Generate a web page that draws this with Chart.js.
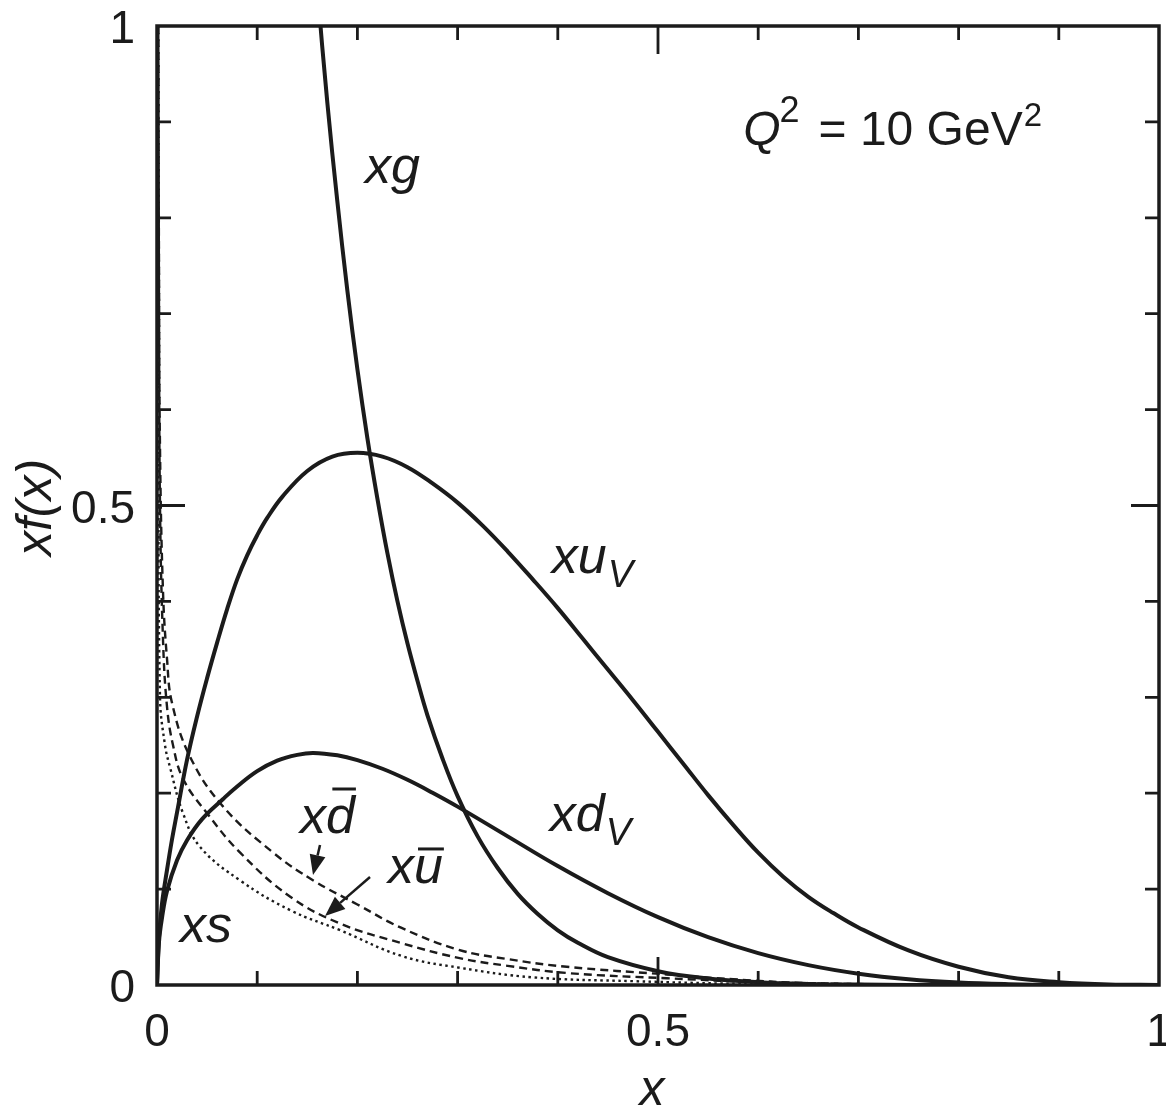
<!DOCTYPE html>
<html>
<head>
<meta charset="utf-8">
<title>Parton distributions at Q2 = 10 GeV2</title>
<script src="https://cdn.jsdelivr.net/npm/chart.js@4.4.1/dist/chart.umd.min.js"></script>
<style>
  html, body { margin: 0; padding: 0; background: #fff; }
  canvas { display: block; }
</style>
</head>
<body>
<canvas id="pdfChart" width="1166" height="1109"></canvas>
<script>
// values (x, xf(x))
const xgX = [0.15, 0.16, 0.17, 0.18, 0.19, 0.2, 0.21, 0.22, 0.23, 0.24, 0.25, 0.26, 0.27, 0.285, 0.3, 0.32, 0.34, 0.36, 0.38, 0.4, 0.42, 0.45, 0.5, 0.55, 0.6, 0.65, 0.7, 0.8, 1.0];
const xgY = [1.18, 1.04, 0.92, 0.817, 0.724, 0.642, 0.57, 0.507, 0.45, 0.4, 0.356, 0.317, 0.281, 0.236, 0.197, 0.155, 0.122, 0.095, 0.074, 0.057, 0.044, 0.029, 0.0144, 0.0067, 0.0029, 0.0011, 0.0004, 0.00003, 0];

const xuvX = [0, 0.002, 0.005, 0.01, 0.015, 0.02, 0.03, 0.04, 0.05, 0.06, 0.07, 0.08, 0.09, 0.1, 0.11, 0.125, 0.15, 0.175, 0.2, 0.225, 0.25, 0.275, 0.3, 0.325, 0.35, 0.375, 0.4, 0.425, 0.45, 0.475, 0.5, 0.525, 0.55, 0.575, 0.6, 0.625, 0.65, 0.675, 0.7, 0.75, 0.8, 0.85, 0.9, 0.95, 1.0];
const xuvY = [0, 0.05, 0.085, 0.12, 0.152, 0.18, 0.235, 0.28, 0.32, 0.357, 0.392, 0.423, 0.448, 0.469, 0.487, 0.509, 0.536, 0.551, 0.555, 0.551, 0.54, 0.523, 0.503, 0.479, 0.452, 0.423, 0.393, 0.361, 0.329, 0.297, 0.264, 0.231, 0.198, 0.167, 0.138, 0.113, 0.092, 0.075, 0.06, 0.036, 0.019, 0.008, 0.003, 0.0006, 0];

const xdvX = [0, 0.002, 0.005, 0.01, 0.02, 0.03, 0.045, 0.066, 0.08, 0.1, 0.12, 0.14, 0.156, 0.18, 0.2, 0.225, 0.25, 0.275, 0.3, 0.35, 0.4, 0.45, 0.5, 0.55, 0.6, 0.65, 0.7, 0.75, 0.8, 0.85, 0.9, 1.0];
const xdvY = [0, 0.045, 0.07, 0.098, 0.13, 0.151, 0.173, 0.194, 0.207, 0.223, 0.234, 0.24, 0.242, 0.2395, 0.2345, 0.2255, 0.214, 0.2005, 0.186, 0.155, 0.124, 0.0957, 0.0707, 0.0498, 0.0332, 0.0207, 0.0118, 0.006, 0.0026, 0.0009, 0.0002, 0];

const xdbarX = [0.0012, 0.002, 0.003, 0.006, 0.01, 0.015, 0.033, 0.066, 0.116, 0.156, 0.2, 0.243, 0.3, 0.35, 0.409, 0.509, 0.575, 0.65, 0.8, 1.0];
const xdbarY = [1.02, 0.75, 0.56, 0.41, 0.34, 0.294, 0.238, 0.186, 0.138, 0.109, 0.084, 0.06, 0.037, 0.027, 0.019, 0.011, 0.006, 0.002, 0, 0];

const xubarX = [0.0015, 0.002, 0.003, 0.006, 0.01, 0.016, 0.026, 0.05, 0.083, 0.133, 0.183, 0.243, 0.302, 0.35, 0.409, 0.509, 0.6, 0.7, 0.8, 1.0];
const xubarY = [1.0, 0.7, 0.5, 0.36, 0.29, 0.25, 0.215, 0.179, 0.138, 0.092, 0.064, 0.044, 0.028, 0.02, 0.0125, 0.007, 0.003, 0.001, 0, 0];

const xsX = [0.0008, 0.0015, 0.003, 0.008, 0.013, 0.026, 0.043, 0.083, 0.133, 0.183, 0.245, 0.302, 0.375, 0.475, 0.6, 0.8, 1.0];
const xsY = [1.0, 0.6, 0.3, 0.25, 0.227, 0.179, 0.144, 0.109, 0.078, 0.057, 0.03, 0.018, 0.008, 0.004, 0.001, 0, 0];

const tickValues = [0, 0.1, 0.2, 0.3, 0.4, 0.5, 0.6, 0.7, 0.8, 0.9, 1];
const tickLabels = [0, 0.5, 1];

// text annotations, placed in data units
const curveLabels = [
  { text: "xg", x: 0.2076, y: 0.836 },
  { text: "xu", sub: "V", x: 0.394, y: 0.4296 },
  { text: "xd", sub: "V", x: 0.392, y: 0.1606 },
  { text: "xd", bar: true, x: 0.1427, y: 0.1585 },
  { text: "xu", bar: true, x: 0.2305, y: 0.1064 },
  { text: "xs", x: 0.023, y: 0.0448 },
];
const arrows = [
  { from: [0.1627, 0.146], to: [0.1557, 0.1147] },
  { from: [0.2126, 0.1126], to: [0.1677, 0.072] },
];

const ink = "#1b1b1b";
const font = "'Liberation Sans', Arial, Helvetica, sans-serif";

const toPoints = (xs, ys) => xs.map((x, i) => ({ x, y: ys[i] }));

const curve = (label, xs, ys, width, dash) => ({
  label,
  data: toPoints(xs, ys),
  showLine: true,
  borderColor: ink,
  borderWidth: width,
  borderDash: dash,
  pointRadius: 0,
  fill: false,
  tension: 0.4,
});

const framePlugin = {
  id: "frame",
  afterDatasetsDraw(chart) {
    const { ctx, chartArea: a, scales } = chart;
    const xs = scales.x;
    const ys = scales.y;
    ctx.save();
    ctx.strokeStyle = ink;
    ctx.fillStyle = ink;

    // inside ticks on all four sides
    ctx.lineWidth = 2.8;
    tickValues.forEach((v) => {
      if (v === 0 || v === 1) return;
      const len = v === 0.5 ? 28 : 14;
      const px = xs.getPixelForValue(v);
      const py = ys.getPixelForValue(v);
      ctx.beginPath();
      ctx.moveTo(px, a.bottom);
      ctx.lineTo(px, a.bottom - len);
      ctx.moveTo(px, a.top);
      ctx.lineTo(px, a.top + len);
      ctx.moveTo(a.left, py);
      ctx.lineTo(a.left + len, py);
      ctx.moveTo(a.right, py);
      ctx.lineTo(a.right - len, py);
      ctx.stroke();
    });

    ctx.lineWidth = 3.5;
    ctx.strokeRect(a.left, a.top, a.right - a.left, a.bottom - a.top);

    // tick labels
    ctx.font = `46px ${font}`;
    ctx.textBaseline = "alphabetic";
    tickLabels.forEach((v) => {
      ctx.textAlign = "right";
      ctx.fillText(String(v), a.left - 22, ys.getPixelForValue(v) + 17);
      ctx.textAlign = "center";
      ctx.fillText(String(v), xs.getPixelForValue(v), a.bottom + 61);
    });

    // axis titles
    ctx.font = `italic 50px ${font}`;
    ctx.textAlign = "center";
    ctx.fillText("x", (a.left + a.right) / 2 - 6, a.bottom + 120);
    ctx.save();
    ctx.translate(a.left - 106, (a.top + a.bottom) / 2 + 2);
    ctx.rotate(-Math.PI / 2);
    ctx.fillText("xf(x)", 0, 0);
    ctx.restore();

    // curve labels
    ctx.textAlign = "left";
    curveLabels.forEach((lab) => {
      const px = xs.getPixelForValue(lab.x);
      const py = ys.getPixelForValue(lab.y);
      ctx.font = `italic 52px ${font}`;
      ctx.fillText(lab.text, px, py);
      const w = ctx.measureText(lab.text).width;
      const w1 = ctx.measureText(lab.text[0]).width;
      const w2 = w - w1;
      if (lab.sub) {
        ctx.font = `italic 38px ${font}`;
        ctx.fillText(lab.sub, px + w + 1, py + 14);
      }
      if (lab.bar) {
        const tall = lab.text[1] === "d";
        const by = py - (tall ? 44 : 34);
        ctx.lineWidth = 3;
        ctx.beginPath();
        ctx.moveTo(px + w1 + (tall ? 0.22 : 0.14) * w2, by);
        ctx.lineTo(px + w + 1, by);
        ctx.stroke();
      }
    });

    // arrows
    arrows.forEach((ar) => {
      const x0 = xs.getPixelForValue(ar.from[0]);
      const y0 = ys.getPixelForValue(ar.from[1]);
      const x1 = xs.getPixelForValue(ar.to[0]);
      const y1 = ys.getPixelForValue(ar.to[1]);
      const ang = Math.atan2(y1 - y0, x1 - x0);
      const hl = 20;
      const hw = 8;
      const bx = x1 - hl * Math.cos(ang);
      const by = y1 - hl * Math.sin(ang);
      ctx.lineWidth = 2.5;
      ctx.beginPath();
      ctx.moveTo(x0, y0);
      ctx.lineTo(bx, by);
      ctx.stroke();
      ctx.beginPath();
      ctx.moveTo(x1, y1);
      ctx.lineTo(bx + hw * Math.sin(ang), by - hw * Math.cos(ang));
      ctx.lineTo(bx - hw * Math.sin(ang), by + hw * Math.cos(ang));
      ctx.closePath();
      ctx.fill();
    });

    // Q^2 note
    const qx = xs.getPixelForValue(0.585);
    const qy = ys.getPixelForValue(0.876);
    ctx.font = `italic 48px ${font}`;
    ctx.fillText("Q", qx, qy);
    let cx = qx + ctx.measureText("Q").width;
    ctx.font = `36px ${font}`;
    ctx.fillText("2", cx - 1, qy - 23);
    cx += ctx.measureText("2").width + 18;
    ctx.font = `48px ${font}`;
    ctx.fillText("= 10 GeV", cx, qy);
    cx += ctx.measureText("= 10 GeV").width + 1;
    ctx.font = `33px ${font}`;
    ctx.fillText("2", cx, qy - 19);
    ctx.restore();
  },
};

new Chart(document.getElementById("pdfChart"), {
  type: "scatter",
  data: {
    datasets: [
      curve("xg", xgX, xgY, 4, []),
      curve("xuV", xuvX, xuvY, 4, []),
      curve("xdV", xdvX, xdvY, 4, []),
      curve("xdbar", xdbarX, xdbarY, 2.4, [8, 5]),
      curve("xubar", xubarX, xubarY, 2.4, [8, 5]),
      curve("xs", xsX, xsY, 2.4, [2.5, 3.5]),
    ],
  },
  options: {
    responsive: false,
    animation: false,
    devicePixelRatio: 1,
    layout: { padding: { left: 157, top: 26, right: 7, bottom: 124 } },
    scales: {
      x: { type: "linear", min: 0, max: 1, display: false },
      y: { type: "linear", min: 0, max: 1, display: false },
    },
    plugins: {
      legend: { display: false },
      tooltip: { enabled: false },
    },
  },
  plugins: [framePlugin],
});
</script>
</body>
</html>
